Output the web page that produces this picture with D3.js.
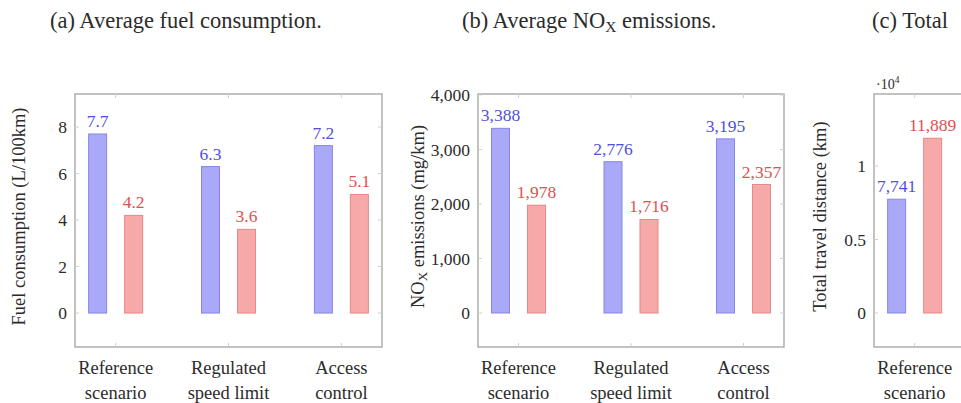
<!DOCTYPE html>
<html>
<head>
<meta charset="utf-8">
<script src="https://cdn.jsdelivr.net/npm/d3@7"></script>
<style>
  html, body { margin: 0; padding: 0; background: #fff; }
  svg { display: block; }
</style>
</head>
<body>
<svg id="chart" width="961" height="403"></svg>
<script>
// Scenarios shown along every x axis
const categories = ["Reference scenario", "Regulated speed limit", "Access control"];
const categoryLines = [["Reference", "scenario"], ["Regulated", "speed limit"], ["Access", "control"]];

// (a) Average fuel consumption, L/100km
const fuelFirst = [7.7, 6.3, 7.2];
const fuelSecond = [4.2, 3.6, 5.1];
const fuelTicks = [0, 2, 4, 6, 8];

// (b) Average NOx emissions, mg/km
const noxFirst = [3388, 2776, 3195];
const noxSecond = [1978, 1716, 2357];
const noxTicks = [0, 1000, 2000, 3000, 4000];

// (c) Total travel distance, km (only the first scenario is within the frame)
const distFirst = [7741];
const distSecond = [11889];
const distTicks = [0, 5000, 10000];

const seriesKeys = ["first", "second"];
const fillColor = { first: "#a9a9f7", second: "#f7a9a9" };
const strokeColor = { first: "#8686ea", second: "#ea8686" };
const labelColor = { first: "#5050e0", second: "#e05050" };
const inkColor = "#2b2b2b";
const FONT = '"Liberation Serif", "Times New Roman", serif';

const svg = d3.select("#chart");

function serif(sel, size, color) {
  return sel.style("font-family", FONT).style("font-size", size + "px").style("fill", color || inkColor);
}

function drawPanel(cfg) {
  const g = svg.append("g");
  const x = d3.scalePoint().domain(categories).range([cfg.x0, cfg.x1]).padding(0.36);
  const inner = d3.scaleBand().domain(seriesKeys).range([-27, 27]).paddingInner(0.5).paddingOuter(0);
  const y = d3.scaleLinear().domain(cfg.domain).range([cfg.y1, cfg.y0]);
  const shownCats = categories.slice(0, cfg.first.length);

  // frame
  g.append("rect")
    .attr("x", cfg.x0).attr("y", cfg.y0)
    .attr("width", cfg.x1 - cfg.x0).attr("height", cfg.y1 - cfg.y0)
    .attr("fill", "none").attr("stroke", "#a8a8a8").attr("stroke-width", 1.4);

  // y axis: labels on the left, small marks inside the frame
  const yAxis = d3.axisLeft(y).tickValues(cfg.ticks).tickSize(0).tickPadding(8).tickFormat(cfg.tickFormat);
  const ya = g.append("g").attr("transform", `translate(${cfg.x0},0)`).call(yAxis);
  ya.select(".domain").remove();
  serif(ya.selectAll("text"), 17.5);
  g.selectAll(".ytickmark").data(cfg.ticks).join("line")
    .attr("x1", cfg.x0).attr("x2", cfg.x0 + 4)
    .attr("y1", d => y(d)).attr("y2", d => y(d))
    .attr("stroke", "#cfcfcf").attr("stroke-width", 1);
  g.selectAll(".ytickmark2").data(cfg.ticks).join("line")
    .attr("x1", cfg.x1).attr("x2", cfg.x1 - 4)
    .attr("y1", d => y(d)).attr("y2", d => y(d))
    .attr("stroke", "#cfcfcf").attr("stroke-width", 1);

  // x axis: marks at top and bottom, two-line category names below
  g.selectAll(".xtop").data(categories).join("line")
    .attr("x1", d => x(d)).attr("x2", d => x(d))
    .attr("y1", cfg.y0).attr("y2", cfg.y0 + 4)
    .attr("stroke", "#cfcfcf");
  g.selectAll(".xbot").data(categories).join("line")
    .attr("x1", d => x(d)).attr("x2", d => x(d))
    .attr("y1", cfg.y1).attr("y2", cfg.y1 - 4)
    .attr("stroke", "#cfcfcf");
  shownCats.forEach((c, i) => {
    const t = serif(g.append("text").attr("text-anchor", "middle"), 18.5);
    categoryLines[i].forEach((line, k) => {
      t.append("tspan").attr("x", x(c)).attr("y", cfg.y1 + 27 + k * 24.5).text(line);
    });
  });

  // bars and value labels
  const rows = [];
  cfg.first.forEach((v, i) => rows.push({ cat: categories[i], key: "first", value: v }));
  cfg.second.forEach((v, i) => rows.push({ cat: categories[i], key: "second", value: v }));

  g.selectAll(".bar").data(rows).join("rect")
    .attr("x", d => x(d.cat) + inner(d.key))
    .attr("width", inner.bandwidth())
    .attr("y", d => y(d.value))
    .attr("height", d => y(0) - y(d.value))
    .attr("fill", d => fillColor[d.key])
    .attr("stroke", d => strokeColor[d.key])
    .attr("stroke-width", 1);

  g.selectAll(".vlabel").data(rows).join("text")
    .attr("x", d => x(d.cat) + inner(d.key) + inner.bandwidth() / 2)
    .attr("y", d => y(d.value) - 7)
    .attr("text-anchor", "middle")
    .style("font-family", FONT).style("font-size", "17.5px")
    .style("fill", d => labelColor[d.key])
    .text(d => cfg.valueFormat(d.value));

  // y axis title
  const yt = serif(g.append("text")
    .attr("transform", `translate(${cfg.ylabelX},${(cfg.y0 + cfg.y1) / 2 - 4}) rotate(-90)`)
    .attr("text-anchor", "middle"), 18.5);
  cfg.ylabel(yt);

  // panel caption
  const ct = serif(g.append("text").attr("x", cfg.captionX).attr("y", 28), 22.5);
  cfg.caption(ct);
  return { g, y };
}

drawPanel({
  x0: 75, x1: 382, y0: 94, y1: 347,
  domain: [-1.46, 9.42], ticks: fuelTicks,
  tickFormat: d3.format("d"),
  valueFormat: d3.format(".1f"),
  first: fuelFirst, second: fuelSecond,
  ylabelX: 25,
  ylabel: t => t.text("Fuel consumption (L/100km)"),
  captionX: 50,
  caption: t => t.text("(a) Average fuel consumption.")
});

drawPanel({
  x0: 478, x1: 784, y0: 94, y1: 347,
  domain: [-624, 4018], ticks: noxTicks,
  tickFormat: d3.format(","),
  valueFormat: d3.format(","),
  first: noxFirst, second: noxSecond,
  ylabelX: 424,
  ylabel: t => {
    t.append("tspan").text("NO");
    t.append("tspan").style("font-size", "13px").attr("dy", 3).text("X");
    t.append("tspan").attr("dy", -3).text(" emissions (mg/km)");
  },
  captionX: 462,
  caption: t => {
    t.append("tspan").text("(b) Average NO");
    t.append("tspan").style("font-size", "15.5px").attr("dy", 4).text("X");
    t.append("tspan").attr("dy", -4).text(" emissions.");
  }
});

const pc = drawPanel({
  x0: 874, x1: 1181, y0: 94, y1: 347,
  domain: [-2313, 14898], ticks: distTicks,
  tickFormat: d => d3.format("")(d / 1e4),
  valueFormat: d3.format(","),
  first: distFirst, second: distSecond,
  ylabelX: 826,
  ylabel: t => t.text("Total travel distance (km)"),
  captionX: 872,
  caption: t => t.text("(c) Total")
});

// scale factor for panel (c)
const sf = serif(pc.g.append("text").attr("x", 876).attr("y", 89), 14);
sf.append("tspan").text("·10");
sf.append("tspan").style("font-size", "9.5px").attr("dy", -6).text("4");
</script>
</body>
</html>
